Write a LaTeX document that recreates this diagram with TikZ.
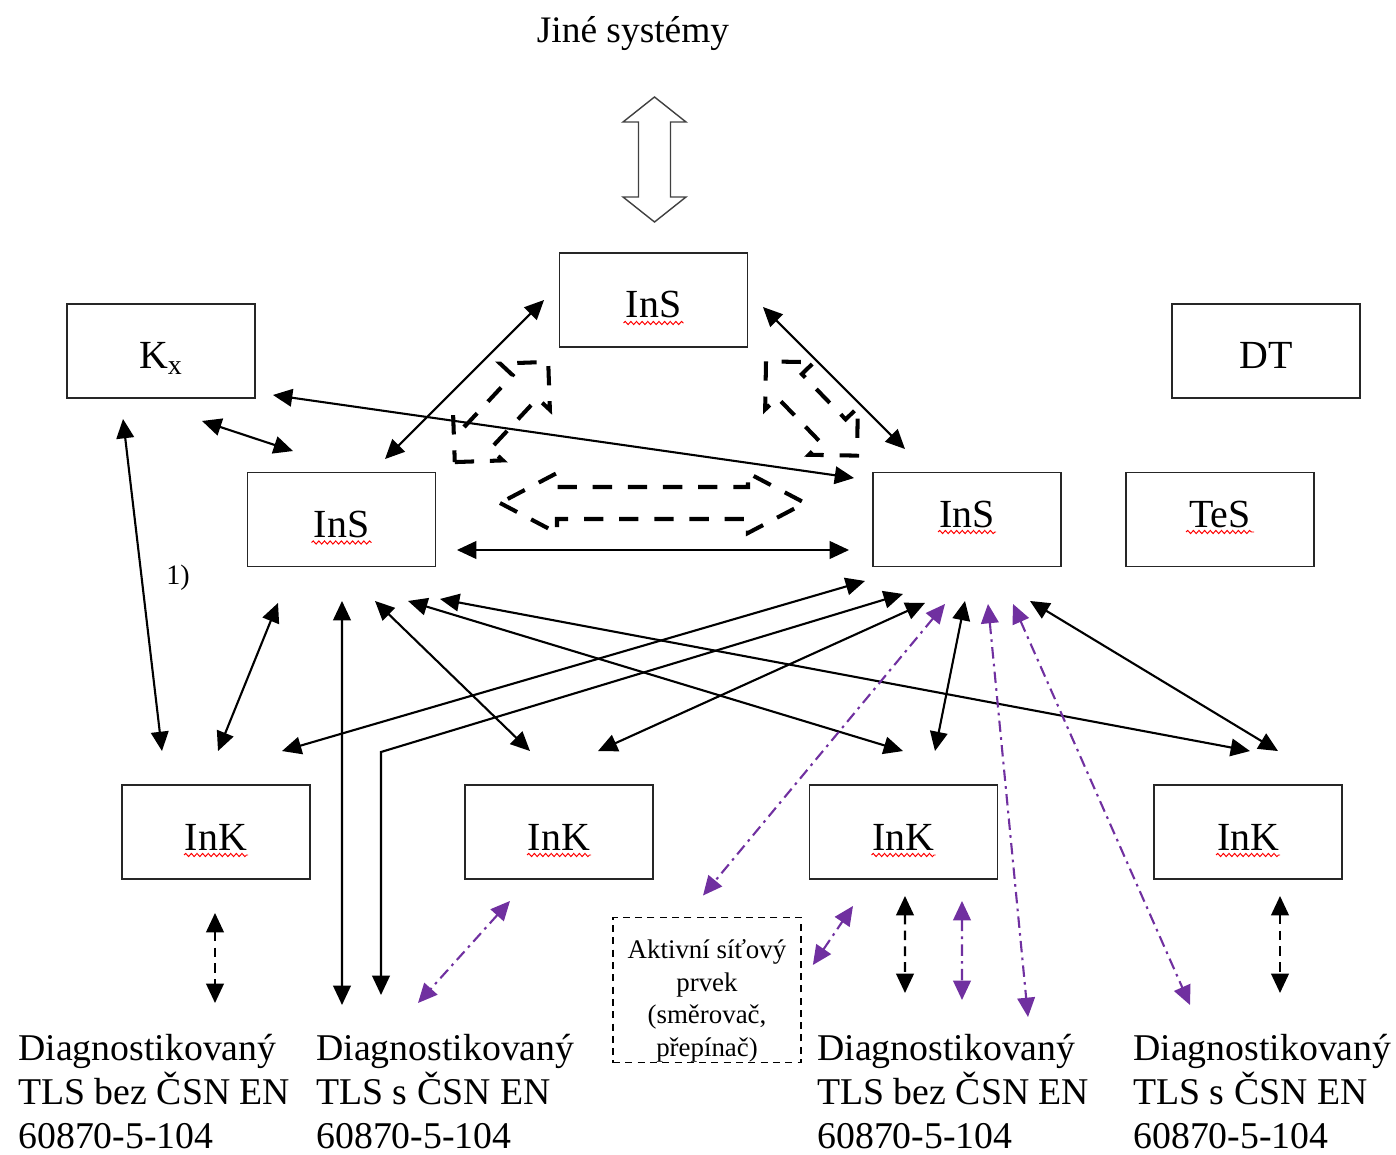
\documentclass[tikz,border=0pt]{standalone}
\usepackage{fontspec}
\setmainfont{Liberation Serif}
\usepackage{tikz}
\usetikzlibrary{arrows.meta, decorations.pathmorphing}

\tikzset{
	pics/block arrow/.style n args={4}{code={
		\draw[pic actions] (-#1,0) -- (-#1+#2,#4) -- (-#1+#2,#3) -- (#1-#2,#3) -- (#1-#2,#4)
			-- (#1,0) -- (#1-#2,-#4) -- (#1-#2,-#3) -- (-#1+#2,-#3) -- (-#1+#2,-#4) -- cycle;
	}}
}

\begin{document}
\begin{tikzpicture}
			[x=0.02cm,y=-0.02cm,
			%Styles
			>={Triangle[length=11pt,width=10pt]},
			box/.style={draw=black!85,line width=1.1pt,minimum width=3.76cm,minimum height=1.88cm,
				inner sep=0pt,text height=0.72cm,text depth=0pt,font=\fontsize{22.7pt}{26pt}\selectfont},
			low text/.style={text height=0.3cm},
			link/.style={<->,line width=1.2pt},
			dashed link/.style={<->,line width=1.2pt,dash pattern=on 5.5pt off 3.5pt},
			purple link/.style={<->,line width=1.2pt,linkpurple,dash pattern=on 6.5pt off 3pt on 1.5pt off 3pt},
			block/.style={draw,line width=2.3pt,dash pattern=on 11pt off 9pt},
			spell line/.style={red,line width=0.55pt,decorate,decoration={snake,amplitude=0.9pt,segment length=3.2pt}},
			tls text/.style={anchor=north west,align=left,inner sep=0pt,font=\fontsize{21.5pt}{24.9pt}\selectfont}
			]
			
			%Colors
			\definecolor{linkpurple}{HTML}{7030A0}
			
			\useasboundingbox (0,0) rectangle (1396,1155);
			
			%The graphic
			\node[font=\fontsize{21.3pt}{25pt}\selectfont] (jine) at (633,34) {Jiné systémy};
			\pic[draw=black!75,line width=0.8pt,rotate=90] at (654.5,159.5) {block arrow={62.5}{25}{16}{31.5}};
			
			\node[box] (topS) at (653.5,300) {InS};
			\node[box] (kx) at (161,351) {K\textsubscript{x}};
			\node[box] (dt) at (1266,351) {DT};
			\node[box] (leftS) at (341.5,519.5) {InS};
			\node[box,low text] (rightS) at (967,519.5) {InS};
			\node[box,low text] (teS) at (1220,519.5) {TeS};
			\node[box] (ink1) at (216,832) {InK};
			\node[box] (ink2) at (559,832) {InK};
			\node[box] (ink3) at (903.5,832) {InK};
			\node[box] (ink4) at (1248,832) {InK};
			\node[draw,line width=1pt,dash pattern=on 4pt off 3pt,minimum width=3.76cm,minimum height=2.88cm,
				align=center,text height=2.67cm,text depth=0pt,font=\fontsize{15.3pt}{18.7pt}\selectfont] (aktiv) at (707,990)
				{Aktivní síťový\\prvek\\(směrovač,\\přepínač)};
			
			\node[tls text] (tls1) at (18,1034) {Diagnostikovaný\\TLS bez ČSN EN\\60870-5-104};
			\node[tls text] (tls2) at (316,1034) {Diagnostikovaný\\TLS s ČSN EN\\60870-5-104};
			\node[tls text] (tls3) at (817,1034) {Diagnostikovaný\\TLS bez ČSN EN\\60870-5-104};
			\node[tls text] (tls4) at (1133,1034) {Diagnostikovaný\\TLS s ČSN EN\\60870-5-104};
			
			\node[font=\fontsize{16pt}{19pt}\selectfont] (note) at (178,578) {1)};
			
			\foreach \n/\w in {topS/30,leftS/30,rightS/29,teS/34,ink1/32,ink2/32,ink3/32,ink4/32}
				\draw[spell line] ([shift={(-\w,5)}]\n.base) -- ([shift={(\w,5)}]\n.base);
			
			\pic[block,rotate=47] at (501.5,412) {block arrow={68.5}{34}{17}{34}};
			\pic[block,rotate=-46] at (811.5,408.5) {block arrow={65.5}{34}{17}{34}};
			\pic[block] at (652.5,503) {block arrow={152.5}{57}{16}{30}};
			
			\draw[link] ([shift={(-14.5,0)}]topS.west) -- ([shift={(43.5,-12.5)}]leftS.north);
			\draw[link] ([shift={(14.5,7)}]topS.east) -- ([shift={(-62,-22.5)}]rightS.north);
			\draw[link] ([shift={(17,44)}]kx.east) -- ([shift={(-18,-41.5)}]rightS.west);
			\draw[link] ([shift={(41,22)}]kx.south) -- ([shift={(-48.5,-20.5)}]leftS.north);
			\draw[link] ([shift={(20.5,30.5)}]leftS.east) -- ([shift={(-23,30.5)}]rightS.west);
			\draw[link] ([shift={(-38,20)}]kx.south) -- ([shift={(-54,-33)}]ink1.north);
			\draw[link] ([shift={(-63.5,35.5)}]leftS.south) -- ([shift={(2,-33)}]ink1.north);
			\draw[link] ([shift={(0.5,33.5)}]leftS.south) -- ([shift={(26,-29)}]tls2.north west);
			\draw[link] ([shift={(33.5,33.5)}]leftS.south) -- ([shift={(-29,-33)}]ink2.north);
			\draw[link] ([shift={(66.5,33.5)}]leftS.south) -- ([shift={(-0.5,-33)}]ink3.north);
			\draw[link] ([shift={(98.5,31.5)}]leftS.south) -- ([shift={(2,-33)}]ink4.north);
			\draw[link] ([shift={(-102,13.5)}]rightS.south) -- ([shift={(66,-33)}]ink1.north);
			\draw[link] ([shift={(-64,26.5)}]rightS.south) -- ([shift={(65,-282)}]tls2.north west)
				-- ([shift={(65,-39)}]tls2.north west);
			\draw[link] ([shift={(-42,35.5)}]rightS.south) -- ([shift={(39,-33)}]ink2.north);
			\draw[link] ([shift={(-2,33.5)}]rightS.south) -- ([shift={(31.5,-33)}]ink3.north);
			\draw[link] ([shift={(63,33.5)}]rightS.south) -- ([shift={(30,-33)}]ink4.north);
			
			\draw[dashed link] ([shift={(-1,33)}]ink1.south) -- ([shift={(197,-31)}]tls1.north west);
			\draw[dashed link] ([shift={(1.5,16)}]ink3.south) -- ([shift={(88,-41)}]tls3.north west);
			\draw[dashed link] ([shift={(32,16)}]ink4.south) -- ([shift={(147,-41)}]tls4.north west);
			
			\draw[purple link] ([shift={(-22,36.5)}]rightS.south) -- ([shift={(-4,-21)}]aktiv.north);
			\draw[purple link] ([shift={(21,36.5)}]rightS.south) -- ([shift={(211,-17)}]tls3.north west);
			\draw[purple link] ([shift={(46,36.5)}]rightS.south) -- ([shift={(57,-29)}]tls4.north west);
			\draw[purple link] ([shift={(-49,21)}]ink2.south) -- ([shift={(102,-31)}]tls2.north west);
			\draw[purple link] ([shift={(11,-25)}]aktiv.east) -- ([shift={(-50.5,26)}]ink3.south);
			\draw[purple link] ([shift={(58.5,21)}]ink3.south) -- ([shift={(145,-34)}]tls3.north west);
		\end{tikzpicture}
\end{document}
